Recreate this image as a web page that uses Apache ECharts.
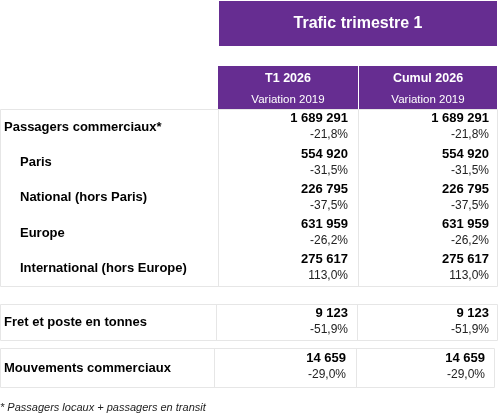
<!DOCTYPE html>
<html><head><meta charset="utf-8">
<script src="https://cdn.jsdelivr.net/npm/echarts@6/dist/echarts.min.js"></script>
<style>html,body{margin:0;padding:0;background:#fff}#c{width:500px;height:416px}</style>
</head><body><div id="c"></div>
<script>
const title = "Trafic trimestre 1";
const columns = ["T1 2026", "Cumul 2026"];
const subHeader = "Variation 2019";
const rowLabels = ["Passagers commerciaux*", "Paris", "National (hors Paris)", "Europe", "International (hors Europe)", "Fret et poste en tonnes", "Mouvements commerciaux"];
const valuesT1 = ["1 689 291", "554 920", "226 795", "631 959", "275 617", "9 123", "14 659"];
const pctT1 = ["-21,8%", "-31,5%", "-37,5%", "-26,2%", "113,0%", "-51,9%", "-29,0%"];
const valuesCumul = ["1 689 291", "554 920", "226 795", "631 959", "275 617", "9 123", "14 659"];
const pctCumul = ["-21,8%", "-31,5%", "-37,5%", "-26,2%", "113,0%", "-51,9%", "-29,0%"];
const footnote = "* Passagers locaux + passagers en transit";

const purple = "#662d91", line = "#e6e6e6", F = "Liberation Sans, Arial, sans-serif";
const rowY = [118, 154, 189, 224, 259, 313, 358];
const labelY = [127, 162, 197, 233, 268, 322, 368];
const labelX = [4, 20, 20, 20, 20, 4, 4];
const colRight = [[348, 489],[348, 489],[348, 489],[348, 489],[348, 489],[348, 489],[346, 485]];
const g = [];
function rect(x, y, w, h, fill, stroke) {
  g.push({type:'rect', shape:{x, y, width:w, height:h}, style:{fill:fill||'none', stroke:stroke||null, lineWidth:1}});
}
function text(x, y, t, o) {
  g.push({type:'text', x, y, style:Object.assign({text:t, fill:'#000', font:'13px '+F, textVerticalAlign:'middle'}, o||{})});
}
rect(219, 1, 278, 45, purple);
text(358, 24, title, {fill:'#fff', font:'bold 16px '+F, textAlign:'center'});
rect(218, 66, 140, 43, purple); rect(359, 66, 138, 43, purple);
[288, 428].forEach((cx, i) => {
  text(cx, 79, columns[i], {fill:'#fff', font:'bold 12.5px '+F, textAlign:'center'});
  text(cx, 100, subHeader, {fill:'#fff', font:'11.5px '+F, textAlign:'center'});
});
// borders
rect(0.5, 109.5, 497, 177, null, line);
g.push({type:'line', shape:{x1:218.5,y1:110,x2:218.5,y2:286}, style:{stroke:line}});
g.push({type:'line', shape:{x1:358.5,y1:110,x2:358.5,y2:286}, style:{stroke:line}});
rect(0.5, 304.5, 497, 36, null, line);
g.push({type:'line', shape:{x1:216.5,y1:305,x2:216.5,y2:340}, style:{stroke:line}});
g.push({type:'line', shape:{x1:357.5,y1:305,x2:357.5,y2:340}, style:{stroke:line}});
rect(0.5, 348.5, 494, 39, null, line);
g.push({type:'line', shape:{x1:214.5,y1:349,x2:214.5,y2:387}, style:{stroke:line}});
g.push({type:'line', shape:{x1:356.5,y1:349,x2:356.5,y2:387}, style:{stroke:line}});

rowLabels.forEach((l, i) => {
  text(labelX[i], labelY[i], l, {font:'bold 13px '+F});
  [[valuesT1, pctT1],[valuesCumul, pctCumul]].forEach((arr, c) => {
    text(colRight[i][c], rowY[i], arr[0][i], {font:'bold 13px '+F, textAlign:'right'});
    text(colRight[i][c], rowY[i] + 17, arr[1][i], {font:'12px '+F, textAlign:'right', fill:'#222'});
  });
});
text(0, 408, footnote, {font:'italic 11px '+F, fill:'#222'});

const chart = echarts.init(document.getElementById('c'));
chart.setOption({animation:false, graphic:g});
</script></body></html>
